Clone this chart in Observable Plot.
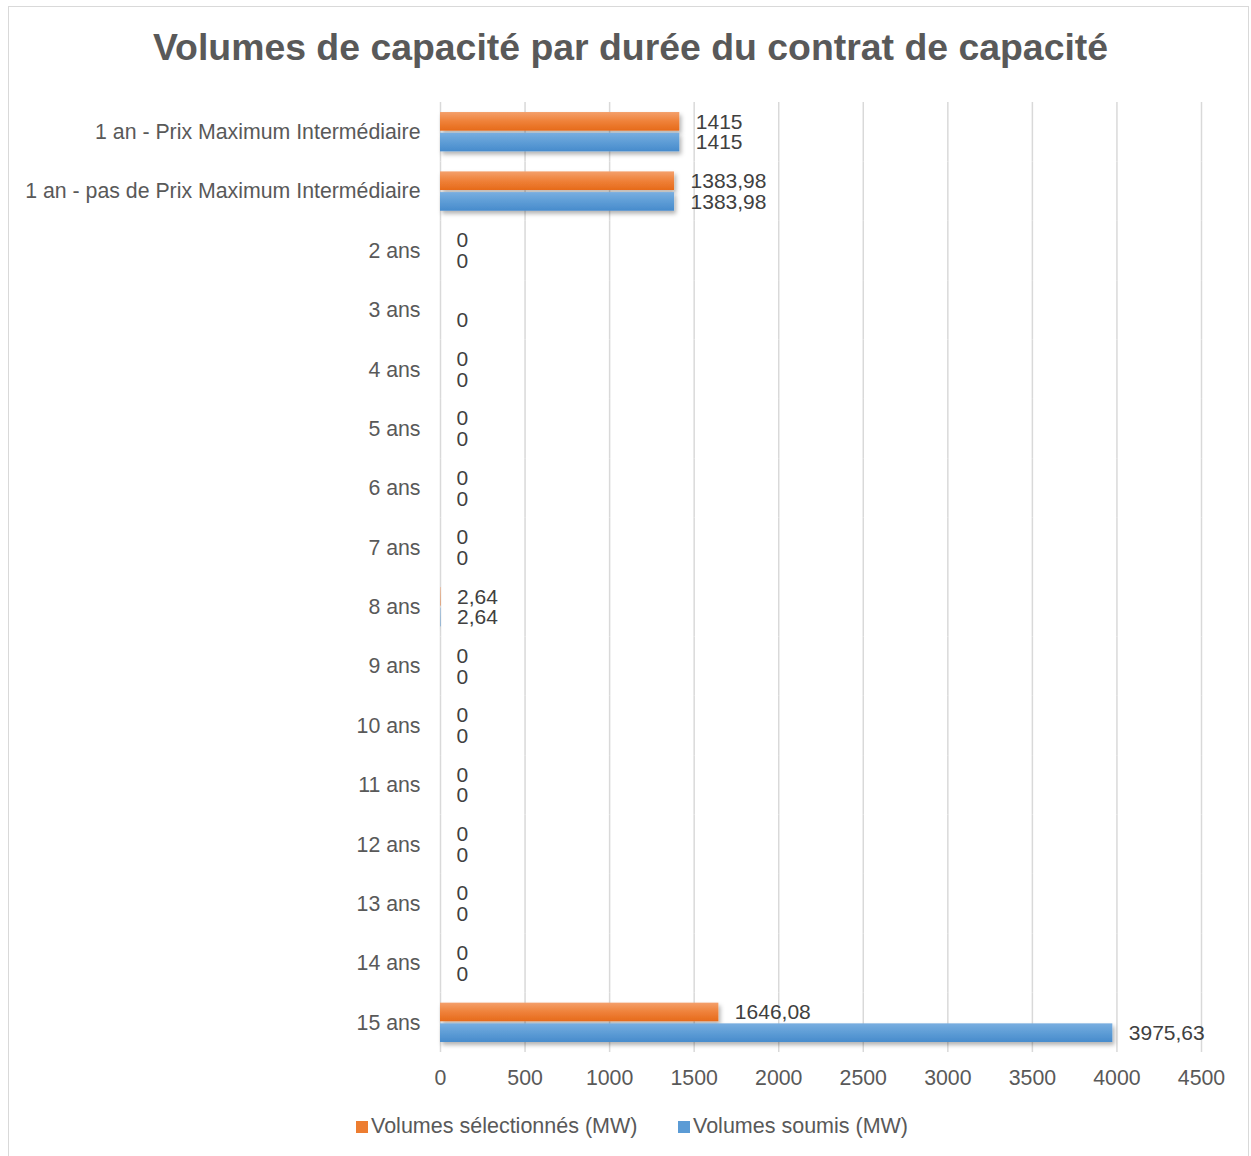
<!DOCTYPE html>
<html>
<head>
<meta charset="utf-8">
<script src="https://cdn.jsdelivr.net/npm/d3@7"></script>
<script src="https://cdn.jsdelivr.net/npm/@observablehq/plot@0.6"></script>
<style>
  html, body { margin: 0; padding: 0; background: #fff; }
  body { width: 1251px; height: 1156px; position: relative; overflow: hidden; font-family: "Liberation Sans", Arial, sans-serif; }
  #frame { position: absolute; left: 8px; top: 6px; width: 1241px; height: 1170px; border: 1px solid #d9d9d9; box-sizing: border-box; }
  #title { position: absolute; left: 0; width: 1261px; top: 26px; text-align: center; font-size: 37.4px; font-weight: bold; color: #595959; }
  #chart { position: absolute; left: 0; top: 90px; }
  #legend { position: absolute; top: 1114px; left: 0; width: 1251px; font-size: 21.5px; color: #595959; }
  .item { position: absolute; white-space: nowrap; }
  .sw { display: inline-block; width: 12px; height: 12px; margin-right: 3px; vertical-align: 0px; }
</style>
</head>
<body>
<div id="frame"></div>
<div id="title">Volumes de capacité par durée du contrat de capacité</div>
<div id="chart"></div>
<div id="legend">
  <span class="item" style="left:356px"><span class="sw" style="background:#ED7D31"></span>Volumes sélectionnés (MW)</span>
  <span class="item" style="left:678px"><span class="sw" style="background:#5B9BD5"></span>Volumes soumis (MW)</span>
</div>
<script>
const categories = [
  "1 an - Prix Maximum Intermédiaire",
  "1 an - pas de Prix Maximum Intermédiaire",
  "2 ans", "3 ans", "4 ans", "5 ans", "6 ans", "7 ans", "8 ans", "9 ans",
  "10 ans", "11 ans", "12 ans", "13 ans", "14 ans", "15 ans"
];
const selected = [1415, 1383.98, 0, null, 0, 0, 0, 0, 2.64, 0, 0, 0, 0, 0, 0, 1646.08];
const submitted = [1415, 1383.98, 0, 0, 0, 0, 0, 0, 2.64, 0, 0, 0, 0, 0, 0, 3975.63];
const seriesNames = ["Volumes sélectionnés (MW)", "Volumes soumis (MW)"];
const xTicks = [0, 500, 1000, 1500, 2000, 2500, 3000, 3500, 4000, 4500];

const rows = [];
categories.forEach((c, i) => {
  if (selected[i] != null) rows.push({cat: c, series: seriesNames[0], value: selected[i]});
  if (submitted[i] != null) rows.push({cat: c, series: seriesNames[1], value: submitted[i]});
});
const fmt = v => String(v).replace(".", ",");

const plot = Plot.plot({
  width: 1251,
  height: 1010,
  marginLeft: 440,
  marginRight: 50,
  marginTop: 12,
  marginBottom: 48,
  style: { fontFamily: "'Liberation Sans', Arial, sans-serif", fontSize: "21.3px", color: "#595959", background: "transparent" },
  x: { domain: [0, 4500], ticks: xTicks, tickSize: 0, tickPadding: 17.5, label: null, tickFormat: d => String(d) },
  fy: { domain: categories, padding: 0, round: false, label: null, tickSize: 0, tickPadding: 20 },
  y: { domain: seriesNames, axis: null, round: false, paddingOuter: 0.484, paddingInner: 0.1 },
  facet: { data: rows, y: "cat", label: null },
  marks: [
    Plot.ruleX(xTicks, { stroke: "#d9d9d9", strokeWidth: 1.5, strokeOpacity: 1 }),
    Plot.barX(rows.filter(d => d.series === seriesNames[0]), { x: "value", y: "series", fy: "cat", fill: "url(#gradO)" }),
    Plot.barX(rows.filter(d => d.series === seriesNames[1]), { x: "value", y: "series", fy: "cat", fill: "url(#gradB)" }),
    Plot.text(rows, { x: "value", y: "series", fy: "cat", text: d => fmt(d.value), textAnchor: "start", dx: 16, fill: "#404040", fontSize: 21 })
  ]
});

const defs = document.createElementNS("http://www.w3.org/2000/svg", "defs");
defs.innerHTML = `
  <linearGradient id="gradO" x1="0" y1="0" x2="0" y2="1">
    <stop offset="0" stop-color="#F4A06C"/>
    <stop offset="0.5" stop-color="#EF8139"/>
    <stop offset="1" stop-color="#E66A1A"/>
  </linearGradient>
  <linearGradient id="gradB" x1="0" y1="0" x2="0" y2="1">
    <stop offset="0" stop-color="#79AEE0"/>
    <stop offset="0.5" stop-color="#5E9DD6"/>
    <stop offset="1" stop-color="#478BCC"/>
  </linearGradient>
  <filter id="shadow" x="-5%" y="-30%" width="115%" height="180%">
    <feDropShadow dx="2" dy="3" stdDeviation="2" flood-color="#000" flood-opacity="0.3"/>
  </filter>`;
plot.insertBefore(defs, plot.firstChild);
plot.querySelectorAll('g[aria-label="bar"] rect').forEach(r => r.setAttribute("filter", "url(#shadow)"));
document.getElementById("chart").appendChild(plot);
</script>
</body>
</html>
